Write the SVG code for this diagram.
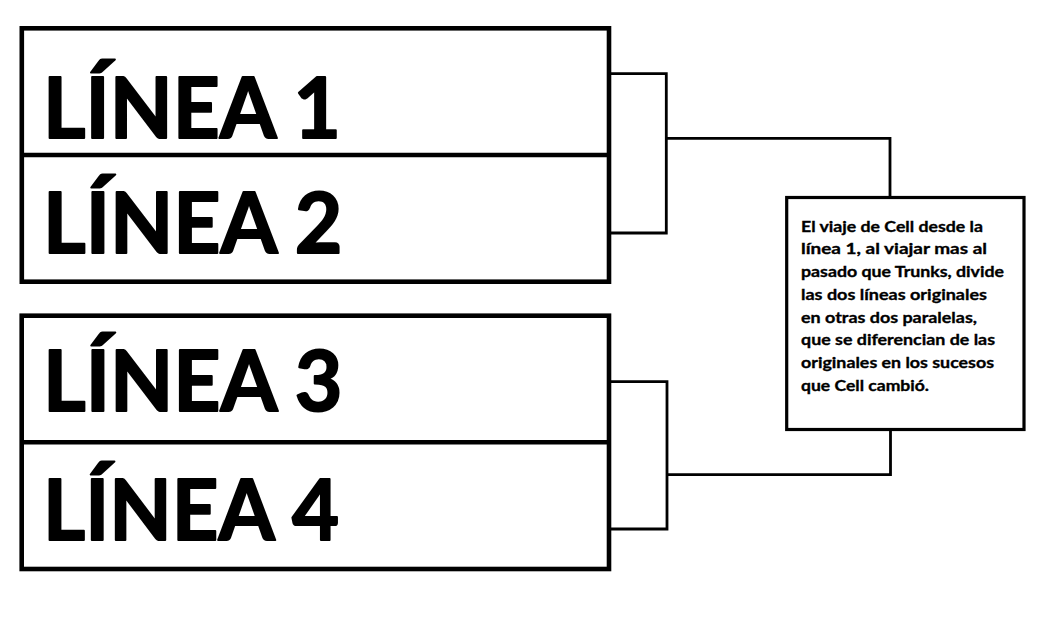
<svg xmlns="http://www.w3.org/2000/svg" width="1057" height="623" viewBox="0 0 1057 623">
<style>
.box{fill:#fff;stroke:#000;stroke-width:4.6}
.div{stroke:#000;stroke-width:4.6}
.big{font-family:"Lato","Open Sans","Liberation Sans",sans-serif;font-weight:bold;font-size:85px;fill:#000;stroke:#000;stroke-width:2;stroke-linejoin:round}
.note{fill:#fff;stroke:#000;stroke-width:3.2}
.small{font-family:"Lato","Open Sans","Liberation Sans",sans-serif;font-weight:bold;font-size:16px;fill:#000;stroke:#000;stroke-width:0.35}
.conn{fill:none;stroke:#000;stroke-width:2.8}
</style>
<rect width="1057" height="623" fill="#fff"/>
<g id="connectors">
<path class="conn" d="M609,73.7 H666.3 V233 H609"/>
<path class="conn" d="M666.3,138.3 H890 V197.5"/>
<path class="conn" d="M609,381.7 H667 V529 H609"/>
<path class="conn" d="M667,474.7 H890.5 V429.5"/>
</g>
<g id="group12">
<rect class="box" x="21.8" y="28.3" width="587.2" height="253.4"/>
<line class="div" x1="21.8" y1="155" x2="609" y2="155"/>
</g>
<g id="linea1">
<text class="big" x="43" y="137.8" textLength="298" lengthAdjust="spacingAndGlyphs">LÍNEA 1</text>
</g>
<g id="linea2">
<text class="big" x="43" y="252.8" textLength="299.5" lengthAdjust="spacingAndGlyphs">LÍNEA 2</text>
</g>
<g id="group34">
<rect class="box" x="21.7" y="315.7" width="587.3" height="253.3"/>
<line class="div" x1="21.7" y1="442.3" x2="609" y2="442.3"/>
</g>
<g id="linea3">
<text class="big" x="43" y="411.2" textLength="299.5" lengthAdjust="spacingAndGlyphs">LÍNEA 3</text>
</g>
<g id="linea4">
<text class="big" x="43" y="539.5" textLength="296" lengthAdjust="spacingAndGlyphs">LÍNEA 4</text>
</g>
<g id="nota">
<rect class="note" x="786.7" y="197.5" width="237.3" height="232"/>
<text class="small" x="801" y="231.7" textLength="182" lengthAdjust="spacingAndGlyphs">El viaje de Cell desde la</text>
<text class="small" x="801" y="254.4" textLength="186" lengthAdjust="spacingAndGlyphs">línea 1, al viajar mas al</text>
<text class="small" x="801" y="277.1" textLength="203" lengthAdjust="spacingAndGlyphs">pasado que Trunks, divide</text>
<text class="small" x="801" y="299.8" textLength="186" lengthAdjust="spacingAndGlyphs">las dos líneas originales</text>
<text class="small" x="801" y="322.5" textLength="176" lengthAdjust="spacingAndGlyphs">en otras dos paralelas,</text>
<text class="small" x="801" y="345.2" textLength="194" lengthAdjust="spacingAndGlyphs">que se diferencian de las</text>
<text class="small" x="801" y="367.9" textLength="193" lengthAdjust="spacingAndGlyphs">originales en los sucesos</text>
<text class="small" x="801" y="390.6" textLength="128" lengthAdjust="spacingAndGlyphs">que Cell cambió.</text>
</g>
</svg>
